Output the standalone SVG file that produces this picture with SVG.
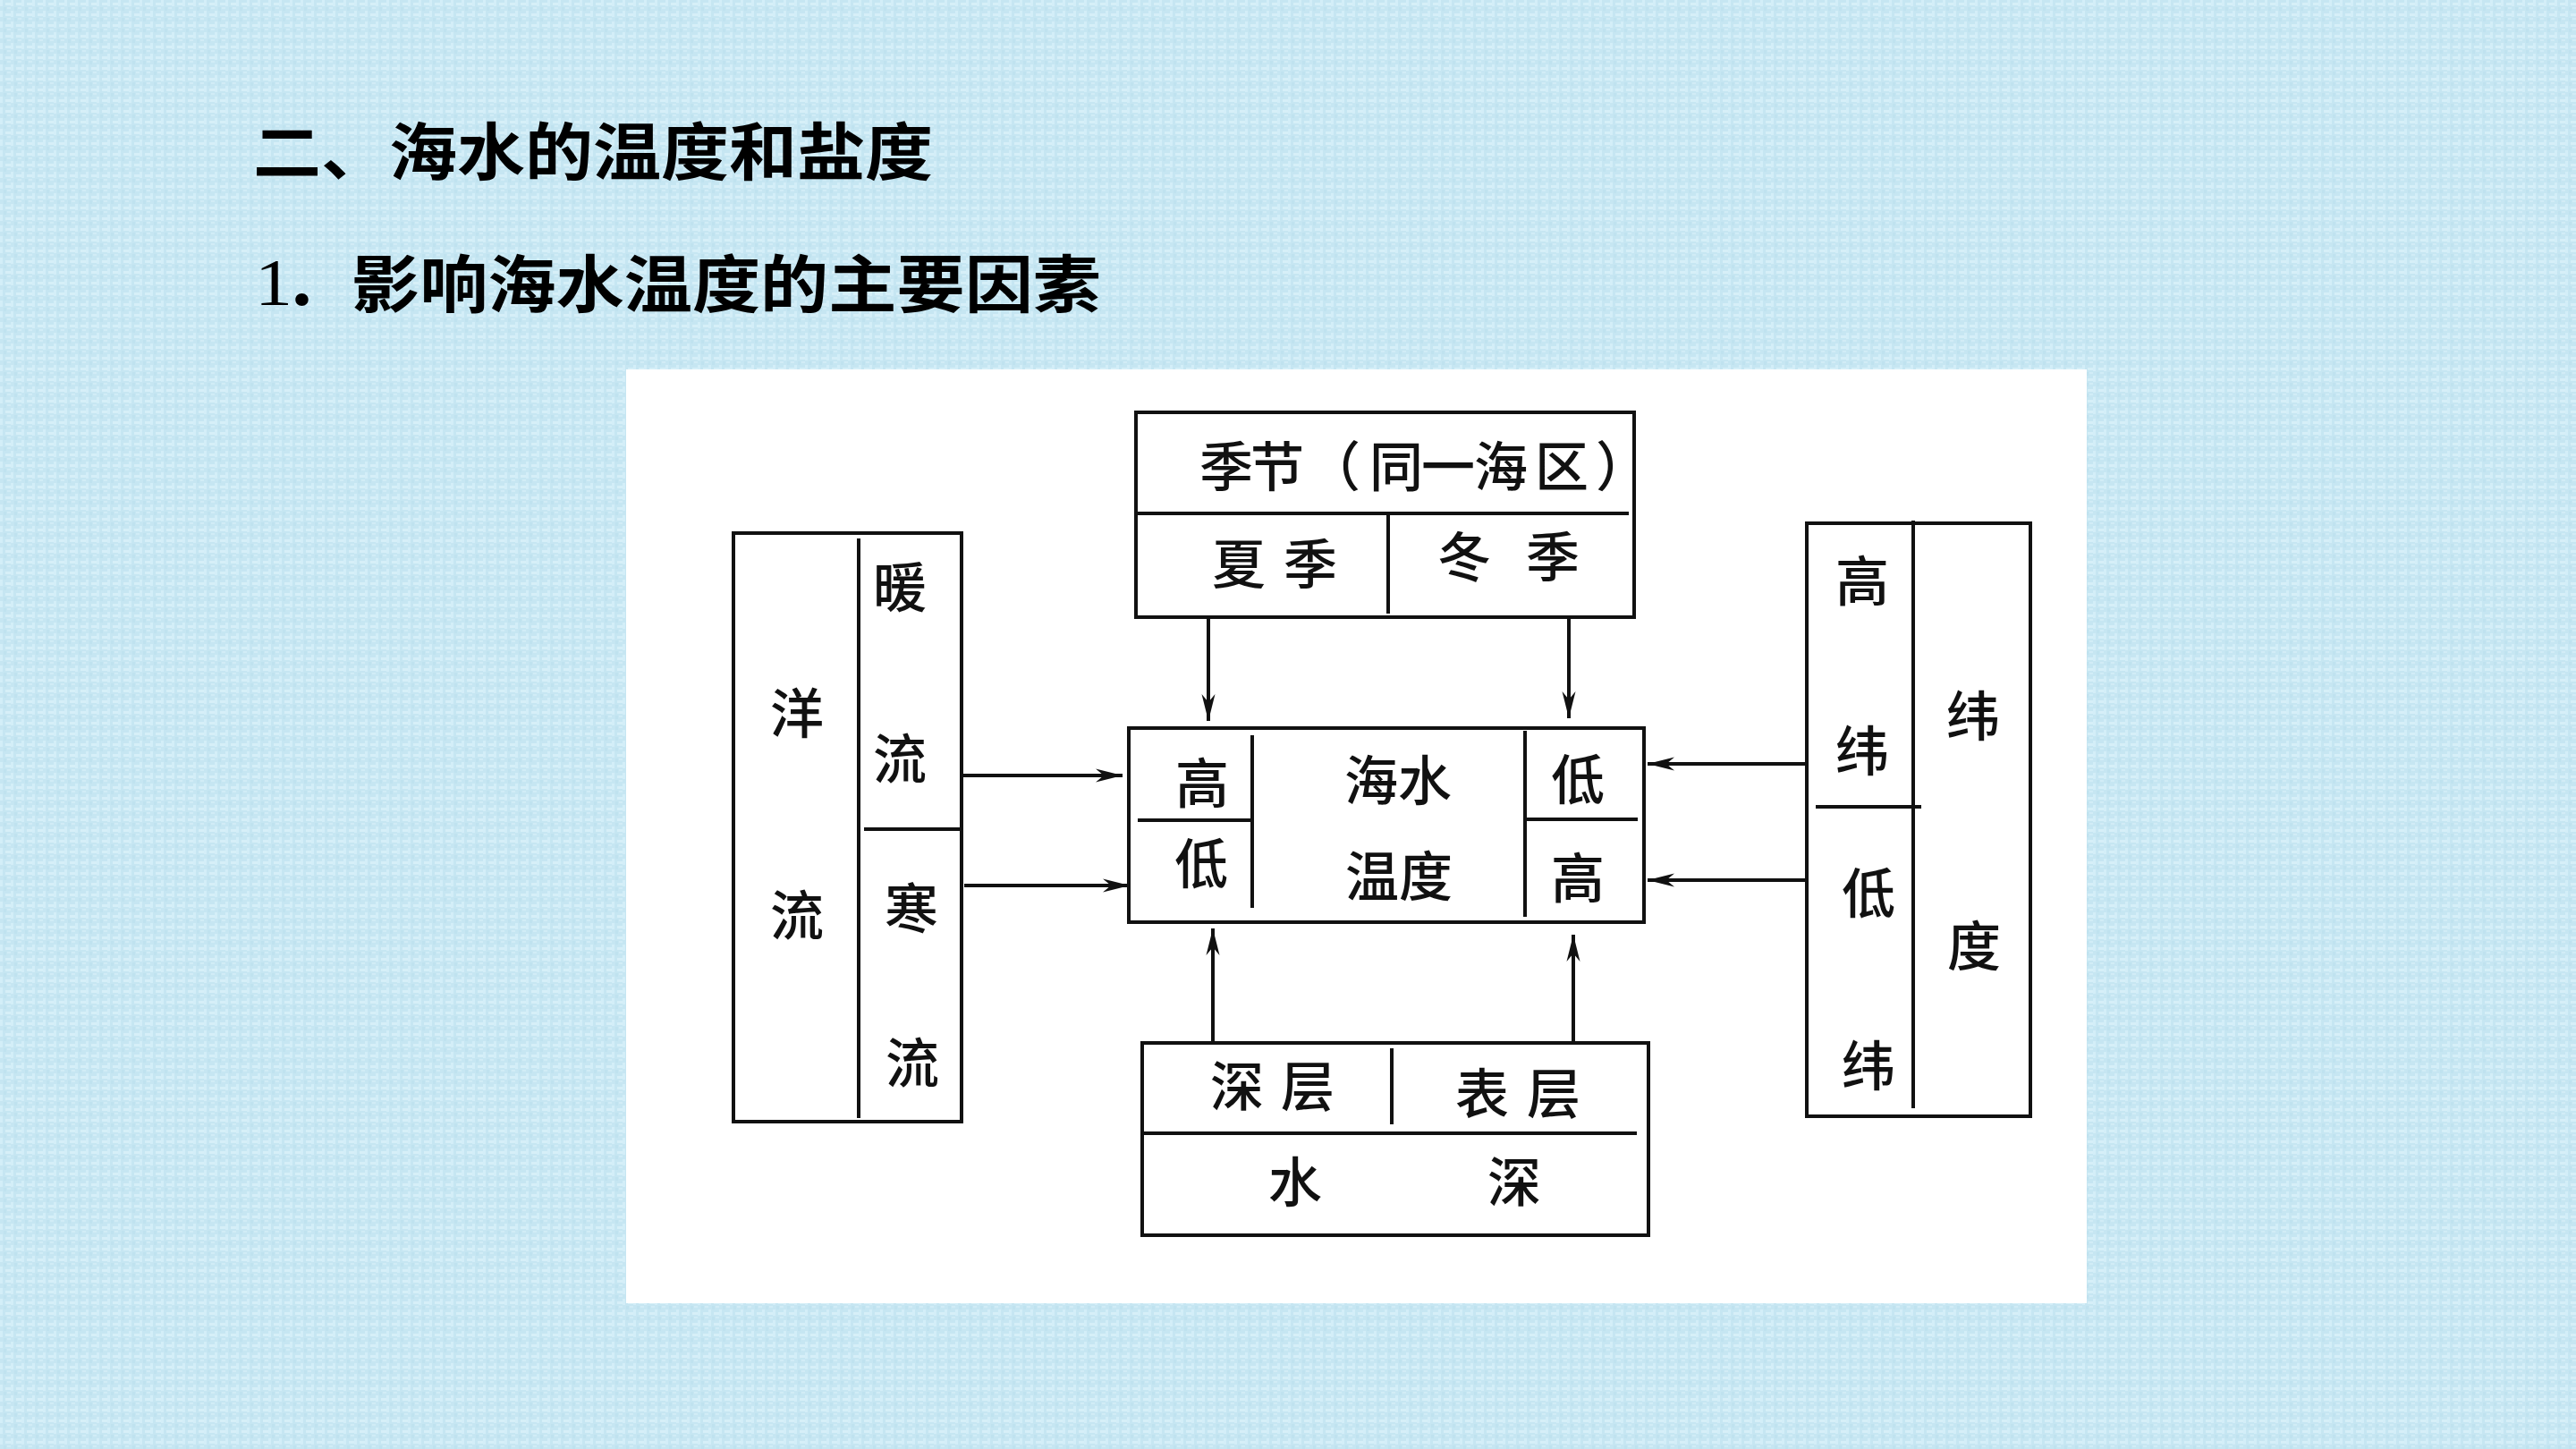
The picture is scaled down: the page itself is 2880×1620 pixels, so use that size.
<svg xmlns="http://www.w3.org/2000/svg" width="2880" height="1620" viewBox="0 0 2880 1620">
<defs>
<pattern id="tex" x="0" y="0" width="12" height="12" patternUnits="userSpaceOnUse">
<rect width="12" height="12" fill="#c6e6f2"/>
<rect x="0" y="0" width="3" height="7" fill="#d3eef8"/>
<rect x="6" y="3" width="6" height="3" fill="#d6eff8"/>
<rect x="4" y="8" width="3" height="4" fill="#bfe2ef"/>
<rect x="8" y="8" width="4" height="2" fill="#d1ecf6"/>
</pattern>
<marker id="ah" markerUnits="userSpaceOnUse" markerWidth="40" markerHeight="20" viewBox="-32 -10 34 20" refX="0" refY="0" orient="auto">
<path d="M0,0 L-30,-7.5 L-21,0 L-30,7.5 Z" fill="#111"/>
</marker>
<style>
.box{fill:none;stroke:#111;stroke-width:4}
.ln{stroke:#111;stroke-width:4;fill:none}
.t{font-family:"Noto Sans CJK SC","Noto Sans CJK JP",sans-serif;font-size:60px;font-weight:500;fill:#111;text-anchor:middle}
.h{font-family:"Noto Sans CJK SC","Noto Sans CJK JP",sans-serif;font-size:70px;font-weight:bold;fill:#000}
.arr{stroke:#111;stroke-width:4;fill:none;marker-end:url(#ah)}
</style>
</defs>
<rect width="2880" height="1620" fill="url(#tex)"/>
<g id="titles">
<text class="h" x="283" y="196" textLength="760" lengthAdjust="spacingAndGlyphs">二、海水的温度和盐度</text>
<text x="285" y="341" font-family="Liberation Serif, serif" font-size="74" fill="#000" textLength="42" lengthAdjust="spacingAndGlyphs">1</text>
<text class="h" x="318" y="343">．</text>
<text class="h" x="393" y="344" textLength="838" lengthAdjust="spacingAndGlyphs">影响海水温度的主要因素</text>
</g>
<rect id="panel" x="700" y="413" width="1633" height="1044" fill="#ffffff"/>
<g id="season">
<rect class="box" x="1270" y="461" width="557" height="229"/>
<line class="ln" x1="1270" y1="574" x2="1821" y2="574"/>
<line class="ln" x1="1552" y1="575" x2="1552" y2="686"/>
<text class="t" x="1371" y="544">季</text>
<text class="t" x="1428" y="544">节</text>
<text class="t" x="1491" y="544">（</text>
<text class="t" x="1561" y="544">同</text>
<text class="t" x="1619" y="544">一</text>
<text class="t" x="1678" y="544">海</text>
<text class="t" x="1746" y="544">区</text>
<text class="t" x="1814" y="544">）</text>
<text class="t" x="1385" y="653">夏</text>
<text class="t" x="1465" y="653">季</text>
<text class="t" x="1637" y="645">冬</text>
<text class="t" x="1736" y="645">季</text>
</g>
<g id="current">
<rect class="box" x="820" y="596" width="255" height="658"/>
<line class="ln" x1="960" y1="602" x2="960" y2="1250"/>
<line class="ln" x1="966" y1="927" x2="1075" y2="927"/>
<text class="t" x="891" y="820">洋</text>
<text class="t" x="891" y="1046">流</text>
<text class="t" x="1006" y="679">暖</text>
<text class="t" x="1006" y="871">流</text>
<text class="t" x="1019" y="1038">寒</text>
<text class="t" x="1020" y="1211">流</text>
</g>
<g id="center">
<rect class="box" x="1262" y="814" width="576" height="217"/>
<line class="ln" x1="1400" y1="822" x2="1400" y2="1015"/>
<line class="ln" x1="1272" y1="917" x2="1400" y2="917"/>
<line class="ln" x1="1705" y1="817" x2="1705" y2="1025"/>
<line class="ln" x1="1706" y1="916" x2="1831" y2="916"/>
<text class="t" x="1344" y="898">高</text>
<text class="t" x="1343" y="988">低</text>
<text class="t" x="1563" y="895">海水</text>
<text class="t" x="1564" y="1002">温度</text>
<text class="t" x="1764" y="894">低</text>
<text class="t" x="1764" y="1004">高</text>
</g>
<g id="latitude">
<rect class="box" x="2020" y="585" width="250" height="663"/>
<line class="ln" x1="2139" y1="582" x2="2139" y2="1239"/>
<line class="ln" x1="2030" y1="902" x2="2148" y2="902"/>
<text class="t" x="2082" y="672">高</text>
<text class="t" x="2082" y="862">纬</text>
<text class="t" x="2089" y="1021">低</text>
<text class="t" x="2089" y="1214">纬</text>
<text class="t" x="2206" y="823">纬</text>
<text class="t" x="2207" y="1080">度</text>
</g>
<g id="depth">
<rect class="box" x="1277" y="1166" width="566" height="215"/>
<line class="ln" x1="1277" y1="1267" x2="1830" y2="1267"/>
<line class="ln" x1="1556" y1="1172" x2="1556" y2="1257"/>
<text class="t" x="1383" y="1237">深</text>
<text class="t" x="1462" y="1237">层</text>
<text class="t" x="1657" y="1245">表</text>
<text class="t" x="1737" y="1245">层</text>
<text class="t" x="1448" y="1344">水</text>
<text class="t" x="1693" y="1344">深</text>
</g>
<g id="connectors">
<line class="arr" x1="1351" y1="691" x2="1351" y2="806"/>
<line class="arr" x1="1754" y1="691" x2="1754" y2="803"/>
<line class="arr" x1="1356" y1="1164" x2="1356" y2="1038"/>
<line class="arr" x1="1759" y1="1164" x2="1759" y2="1045"/>
<line class="arr" x1="1077" y1="867" x2="1255" y2="867"/>
<line class="arr" x1="1078" y1="990" x2="1263" y2="990"/>
<line class="arr" x1="2020" y1="854" x2="1842" y2="854"/>
<line class="arr" x1="2020" y1="984" x2="1842" y2="984"/>
</g>
</svg>
